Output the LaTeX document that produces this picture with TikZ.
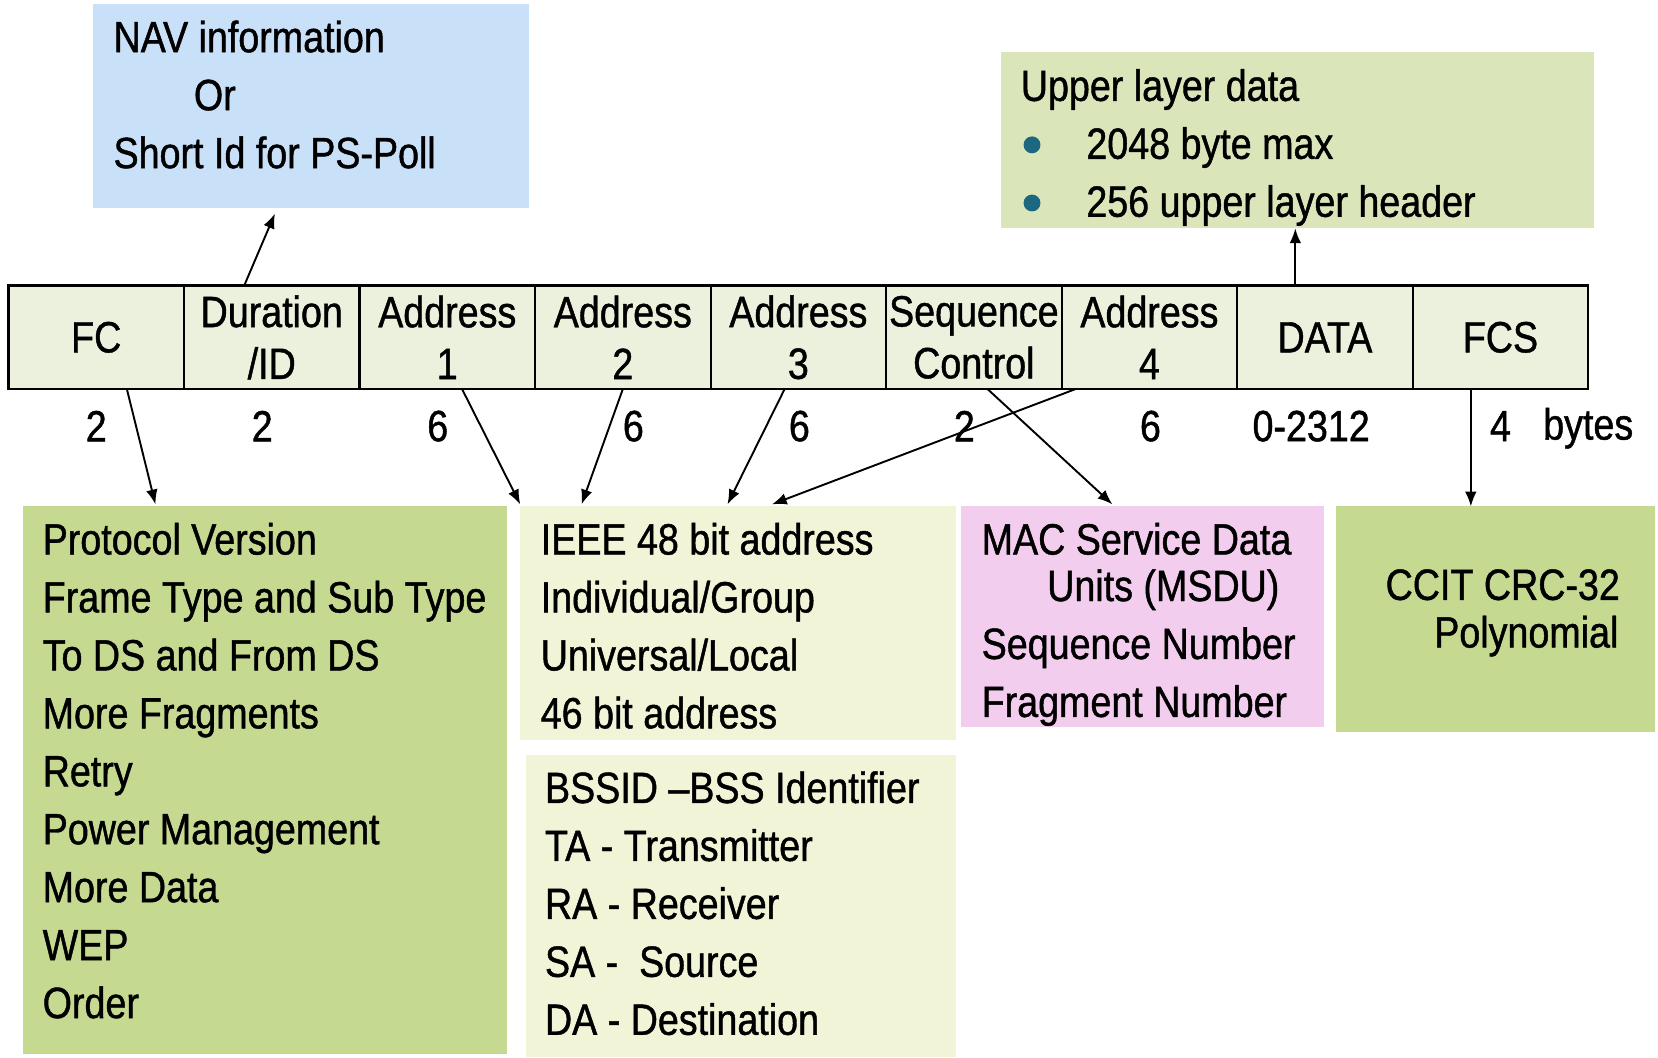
\documentclass[tikz,border=0pt]{standalone}
\usepackage{fontspec}
\setmainfont{Liberation Sans}[FakeStretch=0.86, FakeBold=1]
\usepackage{tikz}
\usetikzlibrary{fit}
\usetikzlibrary{positioning, arrows.meta, calc}

\definecolor{navblue}{RGB}{200,224,248}
\definecolor{upgreen}{RGB}{218,230,186}
\definecolor{fieldfill}{RGB}{235,241,220}
\definecolor{darkgreen}{RGB}{197,217,145}
\definecolor{palegreen}{RGB}{241,244,214}
\definecolor{msdupink}{RGB}{242,205,238}
\definecolor{dotteal}{RGB}{28,104,128}

\begin{document}
\begin{tikzpicture}[x=0.5pt, y=-0.5pt,
        every node/.style={font=\fontsize{20.7}{27.4}\selectfont},
        field/.style={draw, line width=1pt, fill=fieldfill, minimum width=83pt,
            minimum height=49pt, inner sep=0pt, outer sep=0pt, align=center,
            font=\fontsize{20.7}{24.5}\selectfont},
        box/.style={inner sep=0pt, outer sep=0pt},
        txt/.style={anchor=north west, align=left, inner sep=0pt},
        dot/.style={circle, fill=dotteal, minimum size=8pt, inner sep=0pt},
        arr/.style={-{Latex[length=7pt,width=5.5pt]}, line width=0.9pt}]
        \useasboundingbox (0,0) rectangle (1568,1000);

        % Boxes
        \node[box, fill=navblue, fit={(88,4) (500,197)}] (nav) {};
        \node[box, fill=upgreen, fit={(947,49) (1507,216)}] (up) {};
        \node[box, fill=darkgreen, fit={(22,479) (479,997)}] (ctl) {};
        \node[box, fill=palegreen, fit={(492,479) (904,700)}] (addr) {};
        \node[box, fill=palegreen, fit={(497,714) (904,1000)}] (bss) {};
        \node[box, fill=msdupink, fit={(909,479) (1252,688)}] (msdu) {};
        \node[box, fill=darkgreen, fit={(1263,479) (1565,692)}] (crc) {};

        % Box texts
        \node[txt] (navtxt) at (107,19) {NAV information\\
            \hspace*{38pt}Or\\
            Short Id for PS-Poll};
        \node[txt] (uptxt) at (965,65) {Upper layer data\\
            \hspace*{31pt}2048 byte max\\
            \hspace*{31pt}256 upper layer header};
        \node[dot] (dot1) at (976,137) {};
        \node[dot] (dot2) at (976,192) {};
        \node[txt] (ctltxt) at (40,494) {Protocol Version\\
            Frame Type and Sub Type\\
            To DS and From DS\\
            More Fragments\\
            Retry\\
            Power Management\\
            More Data\\
            WEP\\
            Order};
        \node[txt] (addrtxt) at (511,494) {IEEE 48 bit address\\
            Individual/Group\\
            Universal/Local\\
            46 bit address};
        \node[txt] (bsstxt) at (515,729) {BSSID --BSS Identifier\\
            TA - Transmitter\\
            RA - Receiver\\
            SA -\ \ Source\\
            DA - Destination};
        \node[txt] (msdutxt) at (928,494) {MAC Service Data\\[-5.4pt]
            \hspace*{31pt}Units (MSDU)\\
            Sequence Number\\
            Fragment Number};
        \node[txt] (crctxt) at (1310,538) {CCIT CRC-32\\[-4.9pt]
            \hspace*{23pt}Polynomial};

        % Frame fields
        \node[field] (fc) at (91,319) {FC};
        \node[field, right=0pt of fc] (dur) {Duration\\/ID};
        \node[field, right=0pt of dur] (a1) {Address\\1};
        \node[field, right=0pt of a1] (a2) {Address\\2};
        \node[field, right=0pt of a2] (a3) {Address\\3};
        \node[field, right=0pt of a3] (seq) {Sequence\\Control};
        \node[field, right=0pt of seq] (a4) {Address\\4};
        \node[field, right=0pt of a4] (data) {DATA};
        \node[field, right=0pt of data] (fcs) {FCS};

        % Field lengths
        \node (len1) at (91,403) {2};
        \node (len2) at (248,403) {2};
        \node (len3) at (414,403) {6};
        \node (len4) at (599,403) {6};
        \node (len5) at (756,403) {6};
        \node (len6) at (912,403) {2};
        \node (len7) at (1088,403) {6};
        \node (len8) at (1240,403) {0-2312};
        \node (len9) at (1419,403) {4};
        \node (bytes) at (1502,405) {bytes};

        % Arrows
        \draw[arr] ([shift={(-26,0)}]dur.north) -- ([shift={(-34,5)}]nav.south);
        \draw[arr] ([shift={(-28,0)}]data.north) -- ([shift={(-28,0)}]data.north |- up.south);
        \draw[arr] ([shift={(29,0)}]fc.south) -- ([shift={(125,-2)}]ctl.north west);
        \draw[arr] ([shift={(14,0)}]a1.south) -- ([shift={(0,-2)}]addr.north west);
        \draw[arr] (a2.south) -- ([shift={(58,-2)}]addr.north west);
        \draw[arr] ([shift={(-13,0)}]a3.south) -- ([shift={(196,-2)}]addr.north west);
        \draw[arr] ([shift={(-70,0)}]a4.south) -- ([shift={(238,-2)}]addr.north west);
        \draw[arr] ([shift={(13,0)}]seq.south) -- ([shift={(143,-2)}]msdu.north west);
        \draw[arr] ([shift={(-28,0)}]fcs.south) -- ([shift={(-28,0)}]fcs.south |- crc.north);
    \end{tikzpicture}
\end{document}
